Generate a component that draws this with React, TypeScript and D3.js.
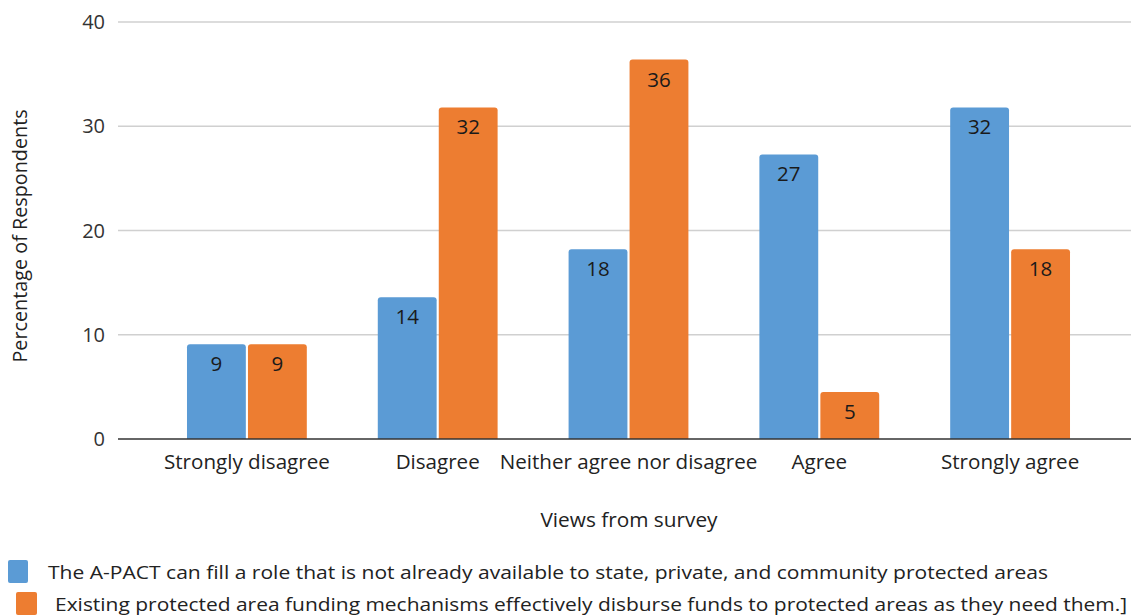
import React from "react";
import * as d3 from "d3";

const categories = ["Strongly disagree", "Disagree", "Neither agree nor disagree", "Agree", "Strongly agree"];
const seriesNames = [
  "The A-PACT can fill a role that is not already available to state, private, and community protected areas",
  "Existing protected area funding mechanisms effectively disburse funds to protected areas as they need them.]",
];
const apactValues = [9.1, 13.6, 18.2, 27.3, 31.8];
const fundingValues = [9.1, 31.8, 36.4, 4.5, 18.2];
const apactLabels = ["9", "14", "18", "27", "32"];
const fundingLabels = ["9", "32", "36", "5", "18"];
const yTicks = [0, 10, 20, 30, 40];
const colors = ["#5B9BD5", "#ED7D31"];

const W = 1131;
const H = 616;
const FONT = "'Open Sans', sans-serif";

function topRoundedRect(x: number, y: number, w: number, h: number, r: number) {
  const rr = Math.min(r, h, w / 2);
  return `M${x},${y + h}V${y + rr}Q${x},${y} ${x + rr},${y}H${x + w - rr}Q${x + w},${y} ${x + w},${y + rr}V${y + h}Z`;
}

export default function App() {
  const y = d3.scaleLinear().domain([0, 40]).range([439, 22]);
  const x0 = d3.scaleBand<string>().domain(categories).range([151.5, 1105.5]).paddingInner(0.372).paddingOuter(0.186);
  const x1 = d3.scaleBand<number>().domain([0, 1]).range([0, x0.bandwidth()]).paddingInner(0.035);
  const series = [
    { values: apactValues, labels: apactLabels },
    { values: fundingValues, labels: fundingLabels },
  ];
  return (
    <svg width={W} height={H} style={{ position: "absolute", left: 0, top: 0, background: "#fff" }}>
      <rect x={0} y={0} width={W} height={H} fill="#fff" />
      {yTicks.map((t) => (
        <g key={t}>
          {t !== 0 && <line x1={118} x2={W} y1={y(t)} y2={y(t)} stroke="#d0d0d0" strokeWidth={1.5} />}
          <text x={105} y={y(t)} dy="0.35em" textAnchor="end" fontFamily={FONT} fontSize={20} fill="#333">
            {t}
          </text>
        </g>
      ))}
      {series.map((s, si) =>
        categories.map((c, ci) => {
          const bx = (x0(c) as number) + (x1(si) as number);
          const bw = x1.bandwidth();
          const by = y(s.values[ci]);
          const bh = y(0) - by;
          return (
            <g key={`${si}-${ci}`}>
              <path d={topRoundedRect(bx, by, bw, bh, 3)} fill={colors[si]} />
              <text x={bx + bw / 2} y={by + 27} textAnchor="middle" fontFamily={FONT} fontSize={20.5} fill="#1a1a1a">
                {s.labels[ci]}
              </text>
            </g>
          );
        })
      )}
      <line x1={118} x2={W} y1={y(0)} y2={y(0)} stroke="#333" strokeWidth={1.5} />
      {categories.map((c) => (
        <text key={c} x={(x0(c) as number) + x0.bandwidth() / 2} y={469} textAnchor="middle" fontFamily={FONT} fontSize={20.6} fill="#222">
          {c}
        </text>
      ))}
      <text x={629} y={527} textAnchor="middle" fontFamily={FONT} fontSize={20.8} fill="#222">
        Views from survey
      </text>
      <text transform={`translate(27,236) rotate(-90)`} textAnchor="middle" fontFamily={FONT} fontSize={19.8} fill="#222">
        Percentage of Respondents
      </text>
      <rect x={8} y={560} width={20} height={23} rx={2} fill={colors[0]} />
      <text x={48} y={579} fontFamily={FONT} fontSize={19} fill="#222" textLength={1000} lengthAdjust="spacingAndGlyphs">
        {seriesNames[0]}
      </text>
      <rect x={16} y={592} width={21} height={23} rx={2} fill={colors[1]} />
      <text x={55} y={611} fontFamily={FONT} fontSize={19} fill="#222" textLength={1072} lengthAdjust="spacingAndGlyphs">
        {seriesNames[1]}
      </text>
    </svg>
  );
}
